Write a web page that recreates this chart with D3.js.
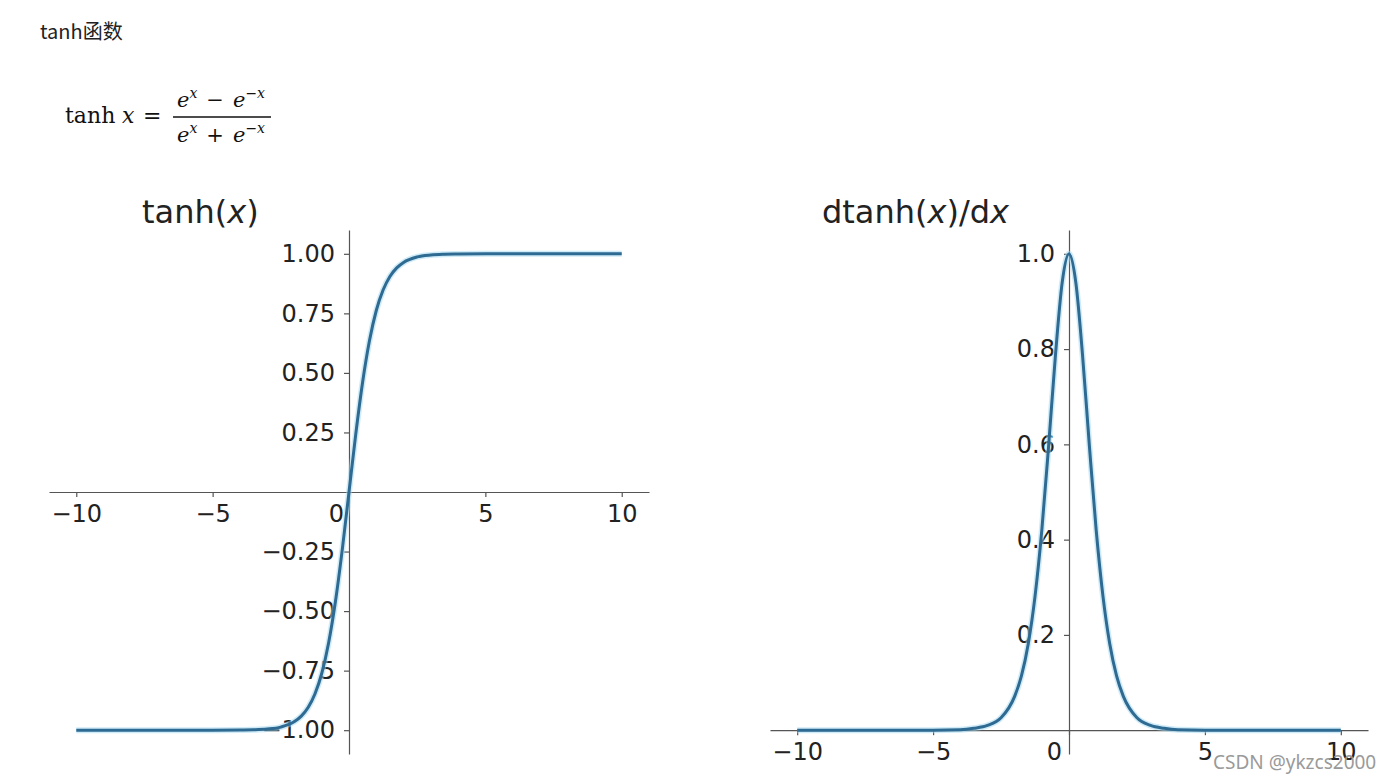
<!DOCTYPE html>
<html>
  <head>
    <meta charset="utf-8">
    <title>tanh</title>
    <script src="https://d3js.org/d3.v7.min.js"></script>
    <style type="text/css">
      body { margin: 0; background: #fff; }
      .tick text { font-family: "DejaVu Sans", sans-serif; font-size: 24px; fill: #222; }
      .domain, .tick line { stroke: #555; stroke-width: 1.2; }
    </style>
  </head>
  <body>
    <script type="text/javascript">

    // values
    var xVals = [-10, -8, -6, -5, -4, -3.5, -3, -2.5, -2, -1.75, -1.5, -1.25, -1, -0.75, -0.5, -0.25,
                 0, 0.25, 0.5, 0.75, 1, 1.25, 1.5, 1.75, 2, 2.5, 3, 3.5, 4, 5, 6, 8, 10];
    var tanhVals = [-1, -1, -1, -1, -0.999, -0.998, -0.995, -0.987, -0.964, -0.941, -0.905, -0.848, -0.762, -0.635, -0.462, -0.245,
                    0, 0.245, 0.462, 0.635, 0.762, 0.848, 0.905, 0.941, 0.964, 0.987, 0.995, 0.998, 0.999, 1, 1, 1, 1];
    var dtanhVals = [0, 0, 0, 0, 0.001, 0.004, 0.010, 0.026, 0.071, 0.114, 0.181, 0.281, 0.420, 0.597, 0.786, 0.940,
                     1.000, 0.940, 0.786, 0.597, 0.420, 0.281, 0.181, 0.114, 0.071, 0.026, 0.010, 0.004, 0.001, 0, 0, 0, 0];
    var xTicks = [-10, -5, 0, 5, 10];
    var tanhYTicks = [-1, -0.75, -0.5, -0.25, 0.25, 0.5, 0.75, 1];
    var dtanhYTicks = [0.2, 0.4, 0.6, 0.8, 1.0];

    var width = 1391, height = 783;
    var svg = d3.select("body").append("svg")
        .attr("width", width)
        .attr("height", height);

    svg.append("rect").attr("width", width).attr("height", height).attr("fill", "#fff");

    // page heading
    svg.append("text")
        .attr("x", 40).attr("y", 39)
        .style("font-family", "'Noto Sans CJK SC', 'Noto Sans', sans-serif")
        .style("font-size", "20px")
        .style("fill", "#222")
        .text("tanh函数");

    // formula
    var f = svg.append("g")
        .style("font-family", "'DejaVu Serif', serif")
        .style("fill", "#111");
    f.append("text").attr("x", 65).attr("y", 123).style("font-size", "22px").text("tanh");
    f.append("text").attr("x", 122).attr("y", 123).style("font-size", "22px").style("font-style", "italic").text("x");
    f.append("text").attr("x", 143).attr("y", 123).style("font-size", "22px").text("=");
    f.append("line").attr("x1", 173).attr("x2", 271).attr("y1", 117).attr("y2", 117)
        .attr("stroke", "#111").attr("stroke-width", 1.3);
    [[107, "−"], [142, "+"]].forEach(function(r) {
      var t = f.append("text").attr("x", 177).attr("y", r[0]).style("font-size", "21px");
      t.append("tspan").style("font-style", "italic").text("e");
      t.append("tspan").attr("dy", -9).style("font-size", "14px").style("font-style", "italic").text("x");
      t.append("tspan").attr("dy", 9).attr("dx", 9).text(r[1]);
      t.append("tspan").attr("dx", 9).style("font-style", "italic").text("e");
      t.append("tspan").attr("dy", -9).style("font-size", "14px").style("font-style", "italic").text("−x");
    });

    var fmtMinus = function(fmt) {
      var g = d3.format(fmt);
      return function(d) { return g(d).replace("-", "−"); };
    };

    function panel(cfg) {
      var x = d3.scaleLinear().domain([-11, 11]).range(cfg.xRange);
      var y = d3.scaleLinear().domain(cfg.yDomain).range([754, 230]);

      var g = svg.append("g");

      // x axis through y = 0
      var xa = g.append("g")
          .attr("transform", "translate(0," + y(0) + ")")
          .call(d3.axisBottom(x).tickValues(xTicks).tickSize(5).tickPadding(8)
                .tickFormat(fmtMinus("d")).tickSizeOuter(0));
      xa.selectAll(".tick text")
          .attr("dx", function(d) { return d === 0 ? cfg.zeroShift : 0; });

      // y axis through x = 0
      g.append("g")
          .attr("transform", "translate(" + x(0) + ",0)")
          .call(d3.axisLeft(y).tickValues(cfg.yTicks).tickSize(5).tickPadding(9)
                .tickFormat(fmtMinus(cfg.yFmt)).tickSizeOuter(0));

      g.selectAll(".domain").attr("fill", "none");

      var line = d3.line()
          .x(function(d, i) { return x(xVals[i]); })
          .y(function(d) { return y(d); })
          .curve(d3.curveMonotoneX);

      g.append("path").datum(cfg.values)
          .attr("d", line).attr("fill", "none")
          .attr("stroke", "#9fd8f0").attr("stroke-opacity", 0.5).attr("stroke-width", 6);
      g.append("path").datum(cfg.values)
          .attr("d", line).attr("fill", "none")
          .attr("stroke", "#2e6a92").attr("stroke-width", 3);

      var title = g.append("text")
          .attr("x", cfg.titleX).attr("y", 223)
          .style("font-family", "'DejaVu Sans', sans-serif")
          .style("font-size", "32px")
          .style("fill", "#222");
      cfg.title.forEach(function(p) {
        title.append("tspan").style("font-style", p[1] ? "italic" : "normal").text(p[0]);
      });
    }

    panel({
      xRange: [49, 649], yDomain: [-1.1, 1.1], yTicks: tanhYTicks, yFmt: ".2f",
      values: tanhVals, zeroShift: -13, titleX: 142,
      title: [["tanh(", false], ["x", true], [")", false]]
    });

    panel({
      xRange: [770, 1368], yDomain: [-0.05, 1.05], yTicks: dtanhYTicks, yFmt: ".1f",
      values: dtanhVals, zeroShift: -15, titleX: 822,
      title: [["dtanh(", false], ["x", true], [")/d", false], ["x", true]]
    });

    // watermark (overlaps the "10" label, as in the source image)
    svg.append("text")
        .attr("x", 1213).attr("y", 769)
        .style("font-family", "'Noto Sans', sans-serif")
        .style("font-size", "19px")
        .style("fill", "#9a9a9a")
        .text("CSDN @ykzcs2000");

    </script>
  </body>
</html>
